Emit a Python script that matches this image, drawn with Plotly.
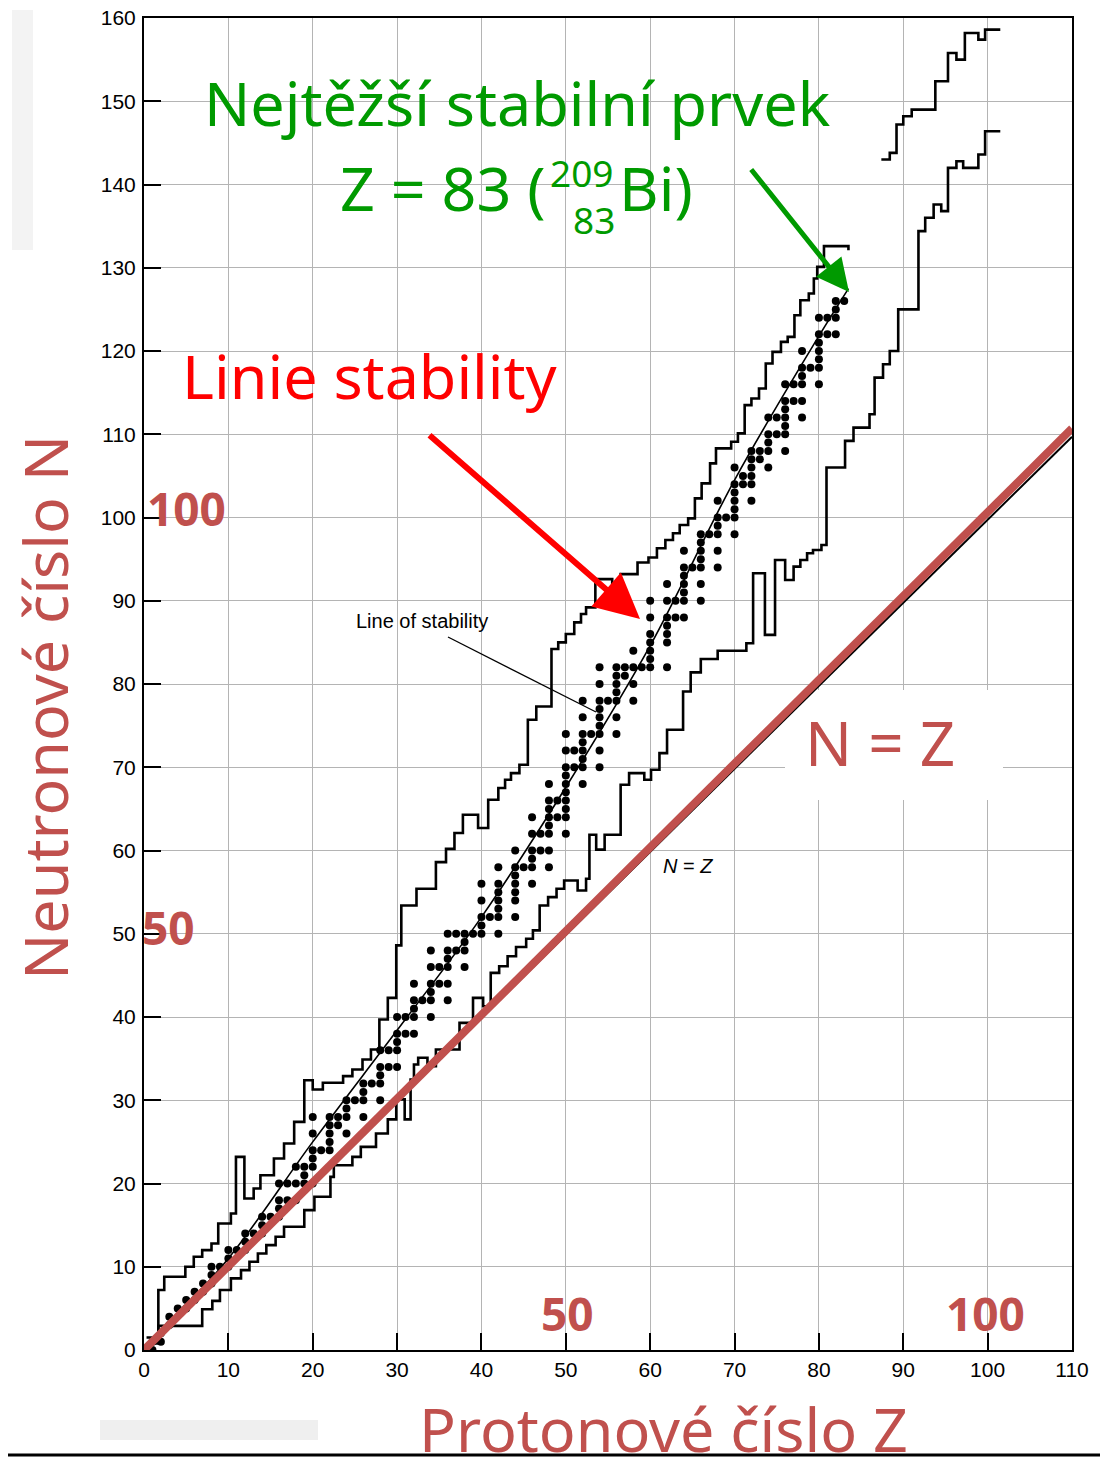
import plotly.graph_objects as go

# ---------------- data ----------------
# stable nuclides: proton number Z and list of neutron numbers N
stable_Z = [1, 2, 3, 4, 5, 6, 7, 8, 9, 10, 11, 12, 13, 14, 15, 16, 17, 18, 19, 20,
            21, 22, 23, 24, 25, 26, 27, 28, 29, 30, 31, 32, 33, 34, 35, 36, 37, 38, 39, 40,
            41, 42, 44, 45, 46, 47, 48, 49, 50, 51, 52, 53, 54, 55, 56, 57, 58, 59, 60,
            62, 63, 64, 65, 66, 67, 68, 69, 70, 71, 72, 73, 74, 75, 76, 77, 78, 79, 80,
            81, 82, 83]
stable_N = [[0, 1], [1, 2], [3, 4], [5], [5, 6], [6, 7], [7, 8], [8, 9, 10], [10], [10, 11, 12],
            [12], [12, 13, 14], [14], [14, 15, 16], [16], [16, 17, 18, 20], [18, 20], [18, 20, 22],
            [20, 21, 22], [20, 22, 23, 24, 26, 28],
            [24], [24, 25, 26, 27, 28], [27, 28], [26, 28, 29, 30], [30], [28, 30, 31, 32], [32],
            [30, 32, 33, 34, 36], [34, 36], [34, 36, 37, 38, 40], [38, 40], [38, 40, 41, 42, 44],
            [42], [40, 42, 43, 44, 46, 48], [44, 46], [42, 44, 46, 47, 48, 50], [48, 50],
            [46, 48, 49, 50], [50], [50, 51, 52, 54, 56],
            [52], [50, 52, 53, 54, 55, 56, 58], [52, 54, 55, 56, 57, 58, 60], [58],
            [56, 58, 59, 60, 62, 64], [60, 62], [58, 60, 62, 63, 64, 65, 66, 68], [64, 66],
            [62, 64, 65, 66, 67, 68, 69, 70, 72, 74], [70, 72], [68, 70, 71, 72, 73, 74, 76, 78],
            [74], [70, 72, 74, 75, 76, 77, 78, 80, 82], [78], [74, 76, 78, 79, 80, 81, 82],
            [81, 82], [78, 80, 82, 84], [82], [82, 83, 84, 85, 86, 88, 90],
            [82, 85, 86, 87, 88, 90, 92], [88, 90], [88, 90, 91, 92, 93, 94, 96], [94],
            [90, 92, 94, 95, 96, 97, 98], [98], [94, 96, 98, 99, 100, 102], [100],
            [98, 100, 101, 102, 103, 104, 106], [104, 105], [102, 104, 105, 106, 107, 108],
            [107, 108], [106, 108, 109, 110, 112], [110, 112], [108, 110, 111, 112, 113, 114, 116],
            [114, 116], [112, 114, 116, 117, 118, 120], [118], [116, 118, 119, 120, 121, 122, 124],
            [122, 124], [122, 124, 125, 126], [126]]

# neutron-rich limit (step line, lower part)
upper_Z = [0.3, 1.7, 2.4, 4.9, 5.9, 6.9, 8.0, 8.8, 10.3, 10.9, 11.9, 13.0, 13.8, 15.4, 16.6,
           17.8, 19.0, 20.0, 21.2, 23.6, 24.7, 25.9, 26.9, 27.9, 28.9, 29.9, 30.5, 32.3, 34.6,
           35.8, 36.8, 37.8, 39.6, 40.8, 42.0, 42.8, 43.5, 44.5, 45.5, 46.5, 48.3, 49.1, 50.0,
           51.0, 51.8, 52.4, 53.5, 55.5, 56.5, 58.5, 59.8, 60.8, 61.8, 62.7, 63.5, 64.5, 65.3,
           66.1, 67.1, 67.8, 69.6, 70.4, 71.2, 72.0, 72.9, 73.7, 74.5, 75.5, 76.3, 77.1, 77.8,
           78.8, 79.4, 79.8, 80.6, 83.5]
upper_N = [1.5, 7.2, 8.8, 10.0, 11.2, 12.0, 12.8, 15.2, 16.4, 23.2, 18.2, 19.4, 21.0, 23.0, 24.8,
           27.4, 32.4, 31.3, 32.1, 32.9, 33.7, 34.9, 36.1, 39.7, 42.3, 48.6, 53.4, 55.4, 58.6,
           60.2, 62.1, 64.3, 62.7, 66.1, 67.5, 68.5, 69.3, 70.3, 75.7, 77.3, 84.2, 85.0, 86.0,
           87.4, 88.4, 89.2, 92.6, 91.8, 93.2, 94.6, 95.2, 96.3, 97.3, 98.1, 99.1, 99.9, 102.3,
           104.1, 106.5, 108.3, 109.1, 110.1, 113.5, 114.3, 115.5, 118.5, 119.9, 121.1, 121.7, 124.3,
           126.1, 126.9, 128.7, 130.1, 132.6, 132.1]
# neutron-rich limit (upper right piece)
upper2_Z = [87.4, 88.4, 89.2, 90.0, 91.0, 93.8, 95.3, 96.3, 97.3, 98.9, 99.7, 101.5]
upper2_N = [143.0, 143.8, 147.2, 148.2, 149.0, 152.4, 155.8, 155.0, 158.2, 157.4, 158.6, 158.6]

# proton-rich limit (step line)
lower_Z = [0.8, 1.7, 6.9, 8.1, 9.0, 10.3, 11.5, 12.5, 13.5, 14.5, 15.6, 16.6, 19.0, 20.2, 22.1,
           22.5, 24.7, 25.7, 27.5, 28.9, 29.9, 30.9, 31.6, 32.0, 32.5, 33.6, 34.6, 37.4, 39.0,
           40.2, 41.1, 42.1, 43.1, 44.1, 45.3, 46.1, 46.9, 47.9, 48.9, 49.8, 51.4, 52.4, 52.8,
           53.6, 54.6, 56.5, 57.5, 59.3, 60.1, 61.1, 62.0, 63.9, 64.8, 66.0, 68.0, 71.4, 72.2,
           73.6, 74.8, 76.0, 77.0, 77.8, 78.6, 79.3, 80.3, 80.9, 83.1, 84.1, 86.0, 86.6, 87.6,
           88.4, 89.4, 91.8, 92.6, 93.6, 94.5, 95.3, 96.3, 97.1, 98.9, 99.7, 101.5]
lower_N = [0.8, 2.9, 4.9, 5.9, 7.2, 8.6, 9.6, 10.6, 11.6, 12.6, 13.6, 14.8, 16.8, 18.4, 20.8,
           22.2, 23.2, 24.4, 26.0, 27.7, 30.1, 27.7, 32.5, 34.3, 35.1, 34.1, 36.1, 39.3, 42.3,
           41.3, 45.3, 46.1, 47.3, 48.4, 49.4, 50.4, 53.4, 54.4, 55.4, 56.4, 55.2, 56.6, 61.9,
           60.1, 61.9, 67.9, 69.3, 68.5, 69.7, 71.7, 74.5, 79.1, 81.4, 83.0, 84.0, 84.9, 93.3,
           85.9, 94.9, 92.5, 94.1, 94.9, 95.7, 96.1, 96.7, 106.0, 109.2, 110.8, 112.4, 116.8, 118.4,
           120.0, 125.0, 134.4, 136.0, 137.6, 136.8, 142.0, 142.8, 142.0, 143.6, 146.4, 146.4]

# line of stability
stab_Z = [0, 10, 20, 30, 40, 50, 60, 70, 80, 83.5]
stab_N = [0, 11.0, 25.0, 38.4, 52.0, 67.6, 84.6, 104.5, 121.8, 127.5]

# N = Z line
nz_Z = [0, 110]
nz_N_black = [0, 109.7]
nz_N_red = [0, 110.7]

x_ticks = list(range(0, 111, 10))
y_ticks = list(range(0, 161, 10))

# ---------------- geometry helpers (screen pixels of the 1108x1459 window) ----------------
PAGE = 8                      # default body margin of the html page
W, H = 1108 - PAGE, 1459 - PAGE
SX0, SX1, SY0, SY1 = 144, 1072, 18, 1350   # plot area on screen
ML, MT = SX0 - PAGE, SY0 - PAGE
PW, PH = SX1 - SX0, SY1 - SY0
MR, MB = W - ML - PW, H - MT - PH
XMAX, YMAX = 110, 160


def dx(px):
    return (px - SX0) / PW * XMAX


def dy(py):
    return (SY1 - py) / PH * YMAX


def ppx(px):
    return (px - SX0) / PW


def ppy(py):
    return (SY1 - py) / PH


BROWN = '#C0504D'
GREEN = '#009A00'
RED = '#FF0000'

fig = go.Figure()

# white box behind the big "N = Z" label (hides the grid there)
bx0, bx1, by0, by1 = dx(785), dx(1003), dy(800), dy(690)
fig.add_trace(go.Scatter(x=[bx0, bx1, bx1, bx0, bx0], y=[by0, by0, by1, by1, by0],
                         mode='lines', fill='toself', fillcolor='white',
                         line=dict(width=0, color='white'), hoverinfo='skip'))

fig.add_trace(go.Scatter(x=nz_Z, y=nz_N_black, mode='lines',
                         line=dict(color='black', width=2)))

for zs, ns in [(upper_Z, upper_N), (upper2_Z, upper2_N), (lower_Z, lower_N)]:
    fig.add_trace(go.Scatter(x=zs, y=ns, mode='lines',
                             line=dict(color='black', width=2.6, shape='hv')))

fig.add_trace(go.Scatter(x=stab_Z, y=stab_N, mode='lines',
                         line=dict(color='black', width=1.6, shape='spline')))

dot_z, dot_n = [], []
for z, ns in zip(stable_Z, stable_N):
    for n in ns:
        dot_z.append(z)
        dot_n.append(n)
fig.add_trace(go.Scatter(x=dot_z, y=dot_n, mode='markers',
                         marker=dict(color='black', size=8, line=dict(width=0))))

fig.add_trace(go.Scatter(x=nz_Z, y=nz_N_red, mode='lines',
                         line=dict(color=BROWN, width=8)))

axis_common = dict(showline=True, linecolor='black', linewidth=2, mirror=True,
                   ticks='inside', ticklen=17, tickwidth=2, tickcolor='black',
                   showgrid=True, gridcolor='#b4b4b4', gridwidth=1, zeroline=False,
                   automargin=False, ticklabeloverflow='allow',
                   tickfont=dict(family='Liberation Sans', size=21, color='black'))

fig.update_layout(
    width=W, height=H,
    margin=dict(l=ML, r=MR, t=MT, b=MB, pad=0, autoexpand=False),
    paper_bgcolor='white', plot_bgcolor='white',
    showlegend=False,
    xaxis=dict(range=[0, XMAX], tickvals=x_ticks, ticktext=[str(v) for v in x_ticks],
               ticklabelstandoff=0, **axis_common),
    yaxis=dict(range=[0, YMAX], tickvals=y_ticks, ticktext=[str(v) for v in y_ticks],
               ticklabelstandoff=2, **axis_common),
    font=dict(family='Liberation Sans'),
)

anns = []


def txt(text, px, py, size, color, family='Noto Sans', xanchor='center', angle=0):
    anns.append(dict(text=text, x=ppx(px), y=ppy(py), xref='paper', yref='paper',
                     showarrow=False, xanchor=xanchor, yanchor='middle', textangle=angle,
                     font=dict(family=family, size=size, color=color)))


txt('Nejtěžší stabilní prvek', 517, 102, 61, GREEN)
txt('Z = 83 (', 547, 188, 61, GREEN, xanchor='right')
txt('209', 582, 173, 37, GREEN)
txt('83', 594, 219, 37, GREEN)
txt('Bi)', 617, 188, 61, GREEN, xanchor='left')
txt('Linie stability', 370, 375, 61, RED)
txt('Neutronové číslo N', 44, 708, 61, BROWN, angle=-90)
txt('Protonové číslo Z', 663, 1428, 61, BROWN)
txt('<b>100</b>', 186, 508, 46, BROWN)
txt('<b>50</b>', 168, 927, 46, BROWN)
txt('<b>50</b>', 567, 1313, 46, BROWN)
txt('<b>100</b>', 985, 1313, 46, BROWN)
txt('N = Z', 880, 742, 62, BROWN)
txt('Line of stability', 422, 621, 20, 'black', family='Liberation Sans')
txt('<i>N</i> = <i>Z</i>', 688, 866, 20, 'black', family='Liberation Sans')

# arrows
anns.append(dict(x=dx(640), y=dy(619), ax=dx(428), ay=dy(434), xref='x', yref='y',
                 axref='x', ayref='y', text='', showarrow=True, arrowhead=2,
                 arrowsize=1.5, arrowwidth=6, arrowcolor=RED, standoff=0))
anns.append(dict(x=dx(849), y=dy(292), ax=dx(750), ay=dy(168), xref='x', yref='y',
                 axref='x', ayref='y', text='', showarrow=True, arrowhead=2,
                 arrowsize=1.3, arrowwidth=5, arrowcolor=GREEN, standoff=0))

fig.update_layout(annotations=anns)

shapes = [
    # pointer of "Line of stability"
    dict(type='line', xref='x', yref='y', x0=dx(448), y0=dy(637), x1=dx(596), y1=dy(712),
         line=dict(color='black', width=1.3), layer='above'),
    # page border at the bottom
    dict(type='line', xref='paper', yref='paper', x0=ppx(PAGE), x1=ppx(1108), y0=ppy(1455), y1=ppy(1455),
         line=dict(color='black', width=3), layer='above'),
    # faint scan artifacts
    dict(type='rect', xref='paper', yref='paper', x0=ppx(100), x1=ppx(318), y0=ppy(1440), y1=ppy(1420),
         fillcolor='#efefef', line=dict(width=0), layer='below'),
    dict(type='rect', xref='paper', yref='paper', x0=ppx(12), x1=ppx(33), y0=ppy(250), y1=ppy(10),
         fillcolor='#f3f3f3', line=dict(width=0), layer='below'),
]
fig.update_layout(shapes=shapes)

fig.write_html('out.html')
